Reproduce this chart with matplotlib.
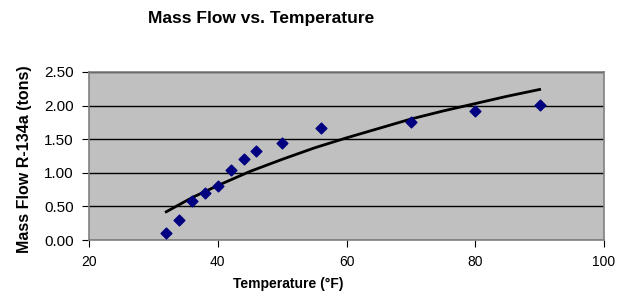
import matplotlib
matplotlib.use('Agg')
import matplotlib.pyplot as plt

plt.rcParams['font.family'] = ['Liberation Sans', 'DejaVu Sans']

# measured data
temp = [32, 34, 36, 38, 40, 42, 44, 46, 50, 56, 70, 80, 90]
mass_flow = [0.10, 0.30, 0.58, 0.70, 0.80, 1.04, 1.20, 1.32, 1.44, 1.66, 1.76, 1.92, 2.01]

# trendline
trend_temp = [32, 36, 40, 45, 50, 55, 60, 65, 70, 75, 80, 85, 90]
trend_flow = [0.42, 0.63, 0.81, 1.02, 1.20, 1.37, 1.52, 1.66, 1.80, 1.92, 2.03, 2.14, 2.24]

fig = plt.figure(figsize=(6.29, 3.05), dpi=100)
ax = fig.add_axes([89 / 629, 65 / 305, 515 / 629, 168 / 305])

ax.set_facecolor('#c0c0c0')
ax.plot(trend_temp, trend_flow, color='black', lw=2, zorder=3)
ax.scatter(temp, mass_flow, marker='D', s=30, color='#000080', zorder=4)

ax.set_xlim(20, 100)
ax.set_ylim(0, 2.5)
ax.set_xticks([20, 40, 60, 80, 100])
ax.set_yticks([0, 0.5, 1.0, 1.5, 2.0, 2.5])
ax.set_yticklabels(['%.2f' % v for v in ax.get_yticks()])
ax.grid(axis='y', color='black', lw=1)
ax.set_axisbelow(True)

for s in ax.spines.values():
    s.set_color('#808080')
    s.set_linewidth(1.2)
ax.tick_params(direction='out', length=5, color='black')
ax.tick_params(axis='x', labelsize=10, pad=6)
ax.tick_params(axis='y', labelsize=11, pad=6)

ax.set_xlabel('Temperature (°F)', fontsize=10, fontweight='bold')
ax.xaxis.set_label_coords(0.386, -0.222)
ax.set_ylabel('Mass Flow R-134a (tons)', fontsize=11.5, fontweight='bold')
ax.yaxis.set_label_coords(-0.111, 0.48)
fig.text(0.415, 0.965, 'Mass Flow vs. Temperature', fontsize=12.5, fontweight='bold',
         ha='center', va='top')

fig.savefig('out.png', dpi=100)
